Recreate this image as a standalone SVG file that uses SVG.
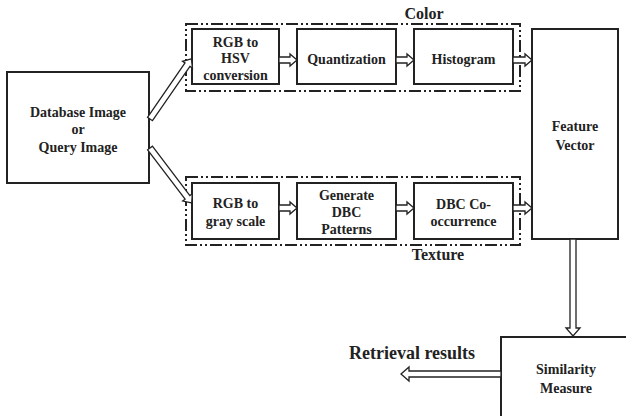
<svg xmlns="http://www.w3.org/2000/svg" width="626" height="416" viewBox="0 0 626 416">
<style>
.box{fill:#fff;stroke:#222;stroke-width:2}
.grp{fill:none;stroke:#222;stroke-width:2;stroke-dasharray:12 3 2 3 2 3}
.arr{fill:#fff;stroke:#222;stroke-width:1.3;stroke-linejoin:miter}
text{font-family:'Liberation Serif','DejaVu Serif',serif;font-weight:700;font-size:14px;fill:#222;text-anchor:middle}
.lbl{font-size:16px}
.ret{font-size:18px}
</style>
<rect width="626" height="416" fill="#fff"/>
<g id="color-group">
<rect class="grp" x="186" y="24" width="334" height="67"/>
<text class="lbl" x="424" y="19">Color</text>
</g>
<g id="texture-group">
<rect class="grp" x="186" y="177" width="334" height="68"/>
<text class="lbl" x="438" y="260">Texture</text>
</g>
<g id="database">
<rect class="box" x="7" y="72" width="142" height="111"/>
<text x="78" y="117">Database Image</text>
<text x="78" y="134">or</text>
<text x="78" y="152">Query Image</text>
</g>
<g id="rgb-hsv">
<rect class="box" x="192" y="29" width="87" height="55"/>
<text x="235.5" y="47">RGB to</text>
<text x="235.5" y="63">HSV</text>
<text x="235.5" y="80">conversion</text>
</g>
<g id="quantization">
<rect class="box" x="297" y="29" width="99" height="55"/>
<text x="346.5" y="64">Quantization</text>
</g>
<g id="histogram">
<rect class="box" x="414" y="29" width="99" height="55"/>
<text x="463.5" y="64">Histogram</text>
</g>
<g id="rgb-gray">
<rect class="box" x="192" y="183" width="87" height="56"/>
<text x="235.5" y="208">RGB to</text>
<text x="235.5" y="226">gray scale</text>
</g>
<g id="dbc-patterns">
<rect class="box" x="297" y="183" width="99" height="56"/>
<text x="346.5" y="200">Generate</text>
<text x="346.5" y="217">DBC</text>
<text x="346.5" y="234">Patterns</text>
</g>
<g id="dbc-cooc">
<rect class="box" x="414" y="183" width="99" height="56"/>
<text x="463.5" y="209">DBC Co-</text>
<text x="463.5" y="226">occurrence</text>
</g>
<g id="feature-vector">
<rect class="box" x="532" y="29" width="86" height="210"/>
<text x="575" y="131">Feature</text>
<text x="575" y="150">Vector</text>
</g>
<g id="similarity">
<rect class="box" x="501" y="337" width="130" height="90"/>
<text x="566" y="374">Similarity</text>
<text x="566" y="393">Measure</text>
</g>
<g id="retrieval">
<text class="ret" x="412" y="359">Retrieval  results</text>
</g>
<g id="connectors">
<polygon class="arr" transform="translate(150,119) rotate(-55.4)" points="0,-3 66,-3 66,-6 73,0 66,6 66,3 0,3"/>
<polygon class="arr" transform="translate(150,148) rotate(52.8)" points="0,-3 62,-3 62,-6 69,0 62,6 62,3 0,3"/>
<polygon class="arr" points="279,57 290,57 290,54 297,60 290,66 290,63 279,63"/>
<polygon class="arr" points="396,57 407,57 407,54 414,60 407,66 407,63 396,63"/>
<polygon class="arr" points="513,57 525,57 525,54 532,60 525,66 525,63 513,63"/>
<polygon class="arr" points="279,205 290,205 290,202 297,208 290,214 290,211 279,211"/>
<polygon class="arr" points="396,205 407,205 407,202 414,208 407,214 407,211 396,211"/>
<polygon class="arr" points="513,205 525,205 525,202 532,208 525,214 525,211 513,211"/>
<polygon class="arr" points="570,239 570,328 566,328 573,336 580,328 576,328 576,239"/>
<polygon class="arr" points="501,371 409,371 409,367 401,374 409,381 409,377 501,377"/>
</g>
</svg>
